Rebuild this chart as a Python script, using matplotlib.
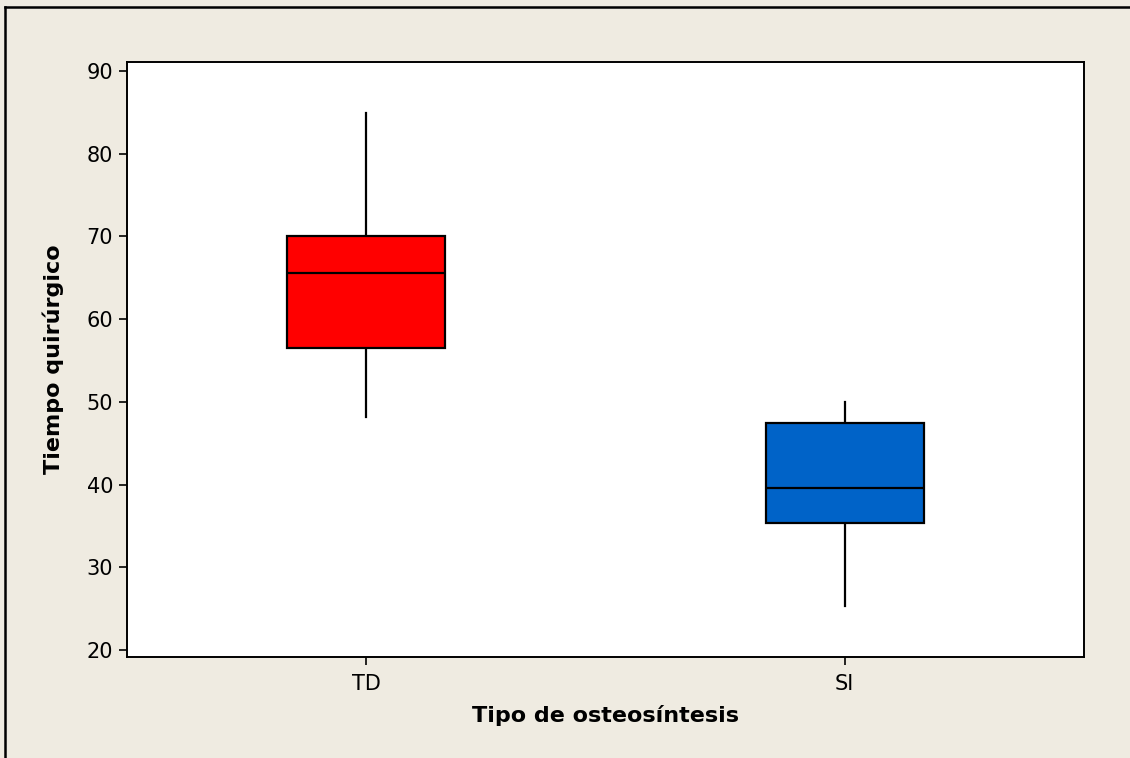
import matplotlib
matplotlib.use("Agg")
import matplotlib.pyplot as plt
from matplotlib.lines import Line2D

plt.rcParams['font.family'] = ['DejaVu Sans']

categories = ["TD", "SI"]
whisker_low = [48.2, 25.3]
q1 = [56.5, 35.3]
median = [65.6, 39.6]
q3 = [70.1, 47.5]
whisker_high = [84.9, 50.0]
box_colors = ["#ff0000", "#0063c8"]

bg = "#efebe1"
W, H = 1130, 758
fig = plt.figure(figsize=(W / 100, H / 100), dpi=100, facecolor=bg)
ax = fig.add_axes([127 / W, 1 - 657 / H, (1084 - 127) / W, (657 - 62) / H])
ax.set_facecolor("white")

stats = []
for i, c in enumerate(categories):
    stats.append(dict(label=c, whislo=whisker_low[i], q1=q1[i], med=median[i],
                      q3=q3[i], whishi=whisker_high[i], fliers=[]))

bp = ax.bxp(stats, positions=[1, 2], widths=0.33, patch_artist=True,
            showcaps=False, showfliers=False,
            boxprops=dict(edgecolor="black", linewidth=1.6),
            medianprops=dict(color="black", linewidth=1.6),
            whiskerprops=dict(color="black", linewidth=1.6))
for patch, col in zip(bp["boxes"], box_colors):
    patch.set_facecolor(col)
    patch.set_zorder(3)
for line in bp["medians"]:
    line.set_zorder(4)

ax.set_xlim(0.5, 2.5)
ax.set_ylim(19.15, 91.1)
ax.set_yticks([20, 30, 40, 50, 60, 70, 80, 90])
ax.set_xticks([1, 2])
ax.set_xticklabels(categories)
ax.tick_params(axis="both", direction="out", length=6, width=1.2, labelsize=15,
               colors="black")
ax.tick_params(axis="x", pad=6)
ax.tick_params(axis="y", pad=4)
for s in ax.spines.values():
    s.set_linewidth(1.4)
    s.set_color("black")

ax.set_xlabel("Tipo de osteosíntesis", fontsize=16, fontweight="bold", labelpad=8)
ax.set_ylabel("Tiempo quirúrgico", fontsize=16, fontweight="bold", labelpad=16)

# frame lines along the top and left edges of the figure
fig.add_artist(Line2D([5 / W, 1], [1 - 7 / H, 1 - 7 / H], transform=fig.transFigure,
                      color="black", linewidth=1.8))
fig.add_artist(Line2D([5 / W, 5 / W], [0, 1 - 7 / H], transform=fig.transFigure,
                      color="black", linewidth=1.8))

fig.savefig("out.png", dpi=100, facecolor=bg)
